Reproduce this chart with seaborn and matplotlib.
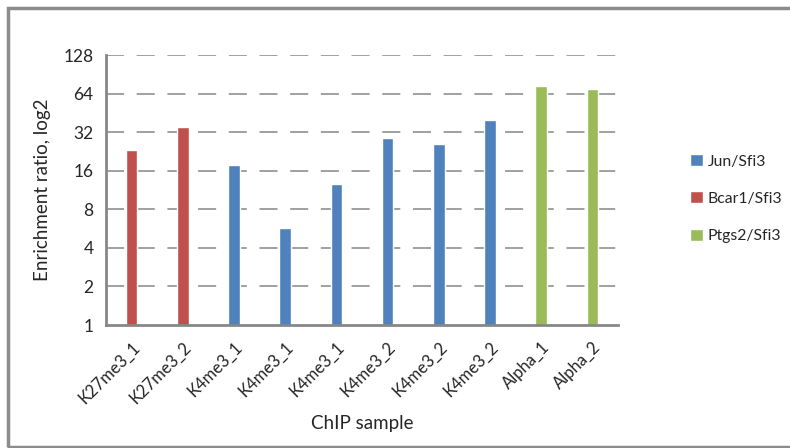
import matplotlib
matplotlib.use("Agg")
import matplotlib.pyplot as plt
import seaborn as sns
import pandas as pd
from matplotlib.patches import Rectangle

samples = ["K27me3_1", "K27me3_2", "K4me3_1", "K4me3_1", "K4me3_1",
           "K4me3_2", "K4me3_2", "K4me3_2", "Alpha_1", "Alpha_2"]
series = ["Bcar1/Sfi3", "Bcar1/Sfi3", "Jun/Sfi3", "Jun/Sfi3", "Jun/Sfi3",
          "Jun/Sfi3", "Jun/Sfi3", "Jun/Sfi3", "Ptgs2/Sfi3", "Ptgs2/Sfi3"]
values = [23.2, 35.1, 17.7, 5.7, 12.6, 28.8, 25.9, 39.8, 73.4, 69.5]
hue_order = ["Jun/Sfi3", "Bcar1/Sfi3", "Ptgs2/Sfi3"]
colors = ["#4F81BD", "#C0504D", "#9BBB59"]
yticks = [1, 2, 4, 8, 16, 32, 64, 128]

sns.set_style("white")
plt.rcParams["font.family"] = ["Lato", "DejaVu Sans"]

df = pd.DataFrame({"pos": list(range(len(samples))), "sample": samples,
                   "series": series, "value": values})

fig = plt.figure(figsize=(7.9, 4.48), dpi=100)
ax = fig.add_axes([106/790, (448-325)/448, (618-106)/790, (325-55)/448])
ax.set_yscale("log", base=2)
sns.barplot(data=df, x="pos", y="value", hue="series", hue_order=hue_order,
            palette=colors, dodge=False, width=0.23, ax=ax, legend=True,
            saturation=1)
ax.set_ylim(1, 128)
ax.set_xlim(-0.5, len(samples) - 0.5)
ax.set_yticks(yticks)
ax.set_yticklabels([str(t) for t in yticks], fontsize=12.5)
ax.yaxis.set_minor_locator(matplotlib.ticker.NullLocator())
ax.set_xticks(range(len(samples)))
ax.set_xticklabels(samples, rotation=45, ha="right", rotation_mode="anchor",
                   fontsize=12)
ax.set_xticks([i - 0.5 for i in range(len(samples) + 1)], minor=True)
ax.tick_params(axis="x", which="major", length=0, pad=10)
ax.tick_params(axis="x", which="minor", length=5, width=2, color="#878787",
               direction="out")
ax.tick_params(axis="y", which="major", length=5, width=2, color="#878787",
               direction="out", pad=4)
for t in yticks[1:]:
    ax.axhline(t, color="#999999", lw=1.3, ls=(0, (10, 7)), zorder=0)
for s in ["top", "right"]:
    ax.spines[s].set_visible(False)
for s in ["left", "bottom"]:
    ax.spines[s].set_color("#878787")
    ax.spines[s].set_linewidth(2)
ax.set_xlabel("ChIP sample", fontsize=13.5, labelpad=6)
ax.set_ylabel("Enrichment ratio, log2", fontsize=13.5, labelpad=9)

leg = ax.legend(loc="upper left", bbox_to_anchor=(676/790, 1 - 140/448),
                bbox_transform=fig.transFigure, frameon=False, fontsize=11.3,
                handlelength=0.8, handleheight=0.8, labelspacing=1.45,
                handletextpad=0.3)

fig.patches.append(Rectangle((8/790, 1.5/448), 1.0, (446.5-8)/448,
                             transform=fig.transFigure, fill=False,
                             edgecolor="#8c8c8c", linewidth=2.5,
                             clip_on=False))
fig.savefig("out.png", dpi=100)
